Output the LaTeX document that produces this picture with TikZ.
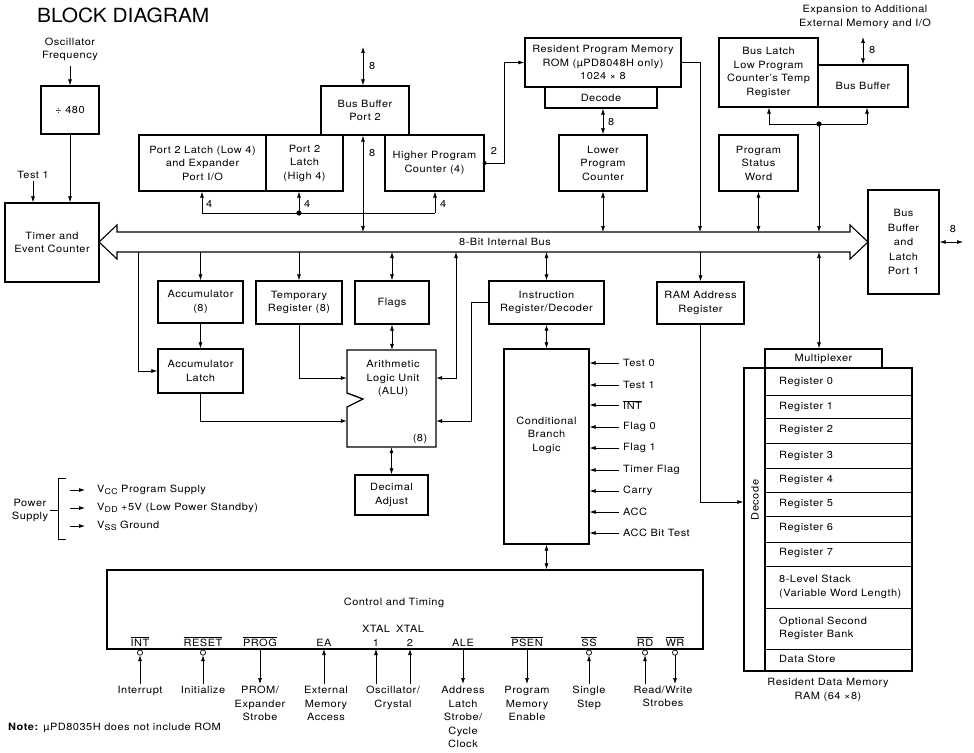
\documentclass[tikz,border=0pt]{standalone}
\usepackage{fontspec}
\setmainfont{TeX Gyre Heros}[FakeStretch=1.1,LetterSpace=5]
\newfontfamily\titlefont{TeX Gyre Heros}[FakeStretch=1.07]
\usetikzlibrary{arrows.meta}
\newcommand\ovl[1]{$\overline{\mbox{#1}}$}
\newcommand\vsub[1]{\raisebox{-0.45ex}{\fontsize{8}{8}\selectfont #1}}
\begin{document}
\begin{tikzpicture}[x=1pt,y=-1pt,
  every node/.style={font=\fontsize{10}{13.5}\selectfont, inner sep=0pt, align=center},
  box/.style={draw, line width=1.3pt},
  con/.style={line width=0.7pt},
  arr/.style={con,-{Latex[length=6pt,width=4pt]}},
  darr/.style={con,{Latex[length=6pt,width=4pt]}-{Latex[length=6pt,width=4pt]}},
  lw/.style={anchor=west}]
\fill[white] (0,0) rectangle (974,752);
\useasboundingbox (0,0) rectangle (974,752);

% title
\node[anchor=west,font=\titlefont\fontsize{19.5}{20}\selectfont] (title) at (37,15) {BLOCK DIAGRAM};

% ---------------- upper blocks
\node (osc) at (70,49.5) {Oscillator\\Frequency};
\node[box,minimum width=58,minimum height=48] (div) at (70,110) {÷ 480};
\node[box,minimum width=94,minimum height=79] (timer) at (52,242.5) {Timer and\\Event Counter};
\node (t1) at (33,175) {Test 1};
\draw[arr,shorten <=5pt] (osc.south) -- (div.north);
\draw[arr] (div.south) -- (div.south |- timer.north);
\draw[arr,shorten <=2pt] (t1.south) -- (t1.south |- timer.north);

\node[box,minimum width=127,minimum height=56] (p2l) at (202.5,163) {Port 2 Latch (Low 4)\\and Expander\\Port I/O};
\node[box,minimum width=77,minimum height=56] (p2h) at (304.5,163) {Port 2\\Latch\\(High 4)};
\node[box,minimum width=88,minimum height=49] (bbp2) at (365,110.5) {Bus Buffer\\Port 2};
\node[box,minimum width=99,minimum height=56] (hpc) at (434.5,163) {Higher Program\\Counter (4)};
\node[box,minimum width=156,minimum height=49] (rom) at (603,62.5) {Resident Program Memory\\ROM (µPD8048H only)\\1024 × 8};
\node[box,minimum width=112,minimum height=21] (dec) at (601,97.5) {Decode};
\node[box,minimum width=88,minimum height=56] (lpc) at (603,163) {Lower\\Program\\Counter};
\node[box,minimum width=99,minimum height=69] (blatch) at (768.5,72.5) {Bus Latch\\Low Program\\Counter's Temp\\Register};
\node[box,minimum width=90,minimum height=42] (bbuf) at (863,86) {Bus Buffer};
\node[box,minimum width=79,minimum height=56] (psw) at (758.5,163) {Program\\Status\\Word};
\node[box,minimum width=71,minimum height=104,font=\fontsize{10}{14.5}\selectfont] (port1) at (903.5,242) {Bus\\Buffer\\and\\Latch\\Port 1};
\node (exp) at (865,17) {Expansion to Additional\\External Memory and I/O};

% ---------------- internal bus
\draw[line width=1.1pt] (99,242) -- (117,225) -- (117,232) -- (850,232) -- (850,225) -- (868,242)
  -- (850,259) -- (850,252) -- (117,252) -- (117,259) -- cycle;
\coordinate (busT) at (0,232);
\coordinate (busB) at (0,252);
\node (buslbl) at (505,242) {8-Bit Internal Bus};

% ---------------- upper connectors
\coordinate (a1) at (202,213);
\coordinate (a2) at (299,213);
\coordinate (a3) at (435,213);
\draw[con] (a1) -- (a3);
\draw[arr] (a1) -- (a1 |- p2l.south);
\draw[arr] (a2) -- (a2 |- p2h.south);
\draw[arr] (a3) -- (a3 |- hpc.south);
\fill (a2) circle[radius=2.6pt];
\node[lw] (n4a) at (206,204) {4};
\node[lw] (n4b) at (304,204) {4};
\node[lw] (n4c) at (440,204) {4};

\coordinate (e8) at (363,47);
\draw[darr] (e8) -- (e8 |- bbp2.north);
\node[lw] (n8a) at (369,66) {8};
\draw[darr] (bbp2.south -| e8) -- (e8 |- busT);
\node[lw] (n8b) at (369,153) {8};

\fill (hpc.east) circle[radius=2pt];
\draw[arr] (hpc.east) -- ++(20,0) |- (rom.west);
\node (n2) at (494,151) {2};

\draw[darr] (lpc.north |- dec.south) -- (lpc.north);
\node[lw] (n8c) at (608,122) {8};
\draw[darr] (lpc.south) -- (lpc.south |- busT);

\coordinate (x700) at (700,0);
\draw[arr] (rom.east) -| (x700 |- busT);

\coordinate (x8t) at (863,37);
\draw[darr] (x8t) -- (x8t |- bbuf.north);
\node[lw] (n8d) at (869,50) {8};
\coordinate (jl) at (769,124);
\coordinate (jb) at (819,124);
\coordinate (jr) at (867,124);
\draw[con] (jl) -- (jr);
\draw[arr] (jl) -- (jl |- blatch.south);
\draw[arr] (jr) -- (jr |- bbuf.south);
\draw[arr] (jb) -- (jb |- busT);
\fill (jb) circle[radius=2.6pt];
\draw[darr] (psw.south) -- (psw.south |- busT);

\coordinate (p1r) at (963,242);
\draw[darr] (port1.east) -- (p1r);
\node (n8e) at (953,229) {8};

% ---------------- lower blocks
\node[box,minimum width=85,minimum height=42] (acc) at (200.5,302) {Accumulator\\(8)};
\node[box,minimum width=86,minimum height=43] (temp) at (299,302.5) {Temporary\\Register (8)};
\node[box,minimum width=74,minimum height=43] (flags) at (392,302.5) {Flags};
\node[box,minimum width=115,minimum height=43] (ir) at (546.5,302.5) {Instruction\\Register/Decoder};
\node[box,minimum width=87,minimum height=42] (ramaddr) at (700.5,303) {RAM Address\\Register};
\node[box,minimum width=85,minimum height=44] (acclatch) at (200.5,371) {Accumulator\\Latch};
\node[box,minimum width=73,minimum height=40] (decadj) at (391.5,495) {Decimal\\Adjust};
\node[box,minimum width=85,minimum height=195] (cbl) at (546.5,446.5) {};
\node (cbltxt) at (546.5,435) {Conditional\\Branch\\Logic};

% ALU with notch
\draw[line width=1.3pt] (347,350) -- (436,350) -- (436,447) -- (347,447) -- (347,407)
  -- (363,399) -- (347,393) -- cycle;
\node[minimum width=89,minimum height=97] (alu) at (391.5,398.5) {};
\node (alutxt) at (393,378.5) {Arithmetic\\Logic Unit\\(ALU)};
\node (alu8) at (420,439) {(8)};

% lower connectors
\draw[arr] (acc.north |- busB) -- (acc.north);
\draw[arr] (temp.north |- busB) -- (temp.north);
\draw[darr] (flags.north |- busB) -- (flags.north);
\draw[darr] (ir.north |- busB) -- (ir.north);
\draw[arr] (ramaddr.north |- busB) -- (ramaddr.north);
\draw[arr] (acc.south) -- (acclatch.north);
\coordinate (x138) at (138,0);
\coordinate (x456) at (456,0);
\coordinate (x471) at (471,0);
\coordinate (y378) at (0,378);
\coordinate (y421) at (0,421);
\draw[arr] (x138 |- busB) |- (acclatch.west);
\draw[arr] (temp.south) |- (alu.west |- y378);
\draw[arr] (acclatch.south) |- (alu.west |- y421);
\draw[darr] (flags.south) -- (flags.south |- alu.north);
\draw[darr] (alu.south) -- (decadj.north);
\draw[darr] (x456 |- busB) |- (alu.east |- y378);
\draw[arr] (ir.west) -| (x471 |- y421) -- (alu.east |- y421);
\draw[darr] (ir.south) -- (cbl.north);

\foreach \yy/\lab [count=\k] in {363/Test 0,385/Test 1,405/\ovl{INT},427/Flag 0,448/Flag 1,470/Timer Flag,491/Carry,512/ACC,533/ACC Bit Test}{
  \node[lw] (cin\k) at (623,\yy) {\lab};
  \draw[arr,shorten <=4pt] (cin\k.west) -- (cin\k.west -| cbl.east);
}

% ---------------- RAM
\node[box,minimum width=117,minimum height=19] (mux) at (823.5,358.5) {Multiplexer};
\node[box,minimum width=21,minimum height=303] (ramdec) at (754.5,519.5) {};
\node[box,minimum width=147,minimum height=303] (ramregs) at (838.5,519.5) {};
\node[rotate=90] (dectxt) at (755,500) {Decode};
\foreach \yy in {395,418,443,468,492,516,542,566,608,649}
  \draw[con] (765,\yy) -- (912,\yy);
\foreach \yy/\lab [count=\k] in {382/Register 0,407/Register 1,430/Register 2,456/Register 3,480/Register 4,504/Register 5,528/Register 6,553/Register 7,587/{8-Level Stack\\(Variable Word Length)},628.5/{Optional Second\\Register Bank},659/Data Store}
  \node[anchor=west,align=left] (reg\k) at (779,\yy) {\lab};
\node (ramcap) at (828,690) {Resident Data Memory\\RAM (64 ×8)};
\draw[darr] (jb |- busB) -- (jb |- mux.north);
\coordinate (y502) at (0,502);
\draw[arr] (ramaddr.south) |- (ramdec.west |- y502);

% ---------------- control and timing
\node[box,minimum width=596,minimum height=79] (ctl) at (405,609.5) {};
\node (ctltxt) at (394,603) {Control and Timing};
\draw[darr] (cbl.south) -- (cbl.south |- ctl.north);

\foreach \nm/\x/\c/\d/\lab in {int/140/1/u/\ovl{INT},rst/203/1/u/\ovl{RESET},prog/260/0/d/\ovl{PROG},ea/324/0/u/EA,xa/376/0/u/{XTAL\\1},xb/410/0/u/{XTAL\\2},ale/463/0/d/ALE,psen/527/0/d/\ovl{PSEN},ss/589/1/u/\ovl{SS},rd/645/1/u/\ovl{RD},wr/675/1/d/\ovl{WR}}{
  \node[anchor=base] (pin\nm) at (\x,646) {\lab};
  \coordinate (pe\nm) at (\x,684);
  \ifnum\c=1
    \draw[con] (\x,652.6) circle[radius=2.6pt];
    \coordinate (ps\nm) at (\x,655.2);
  \else
    \coordinate (ps\nm) at (\x,649);
  \fi
  \if\d u
    \draw[arr] (pe\nm) -- (ps\nm);
  \else
    \draw[arr] (ps\nm) -- (pe\nm);
  \fi
}
\foreach \nm/\x/\lab in {intl/140/Interrupt,rstl/203/Initialize,progl/260/{PROM/\\Expander\\Strobe},eal/326/{External\\Memory\\Access},xtl/393/{Oscillator/\\Crystal},alel/463/{Address\\Latch\\Strobe/\\Cycle\\Clock},psenl/527/{Program\\Memory\\Enable},ssl/589/{Single\\Step},rwl/663/{Read/Write\\Strobes}}
  \node[anchor=north] (\nm) at (\x,686) {\lab};

% ---------------- power supply
\node (pw) at (30,510.5) {Power\\Supply};
\draw[con] (66,478) -- (58,478) -- (58,539) -- (66,539);
\draw[con] (50,510) -- (58,510);
\foreach \yy/\lab [count=\k] in {490/{V\vsub{CC} Program Supply},508/{V\vsub{DD} +5V (Low Power Standby)},526/{V\vsub{SS} Ground}}{
  \node[lw] (pv\k) at (97,\yy) {\lab};
  \coordinate (ps\k) at (70,\yy);
  \draw[arr] (ps\k) -- ([xshift=-12pt]pv\k.west);
}

\node[lw] (note) at (8,728) {\textbf{Note:} µPD8035H does not include ROM};
\end{tikzpicture}
\end{document}
